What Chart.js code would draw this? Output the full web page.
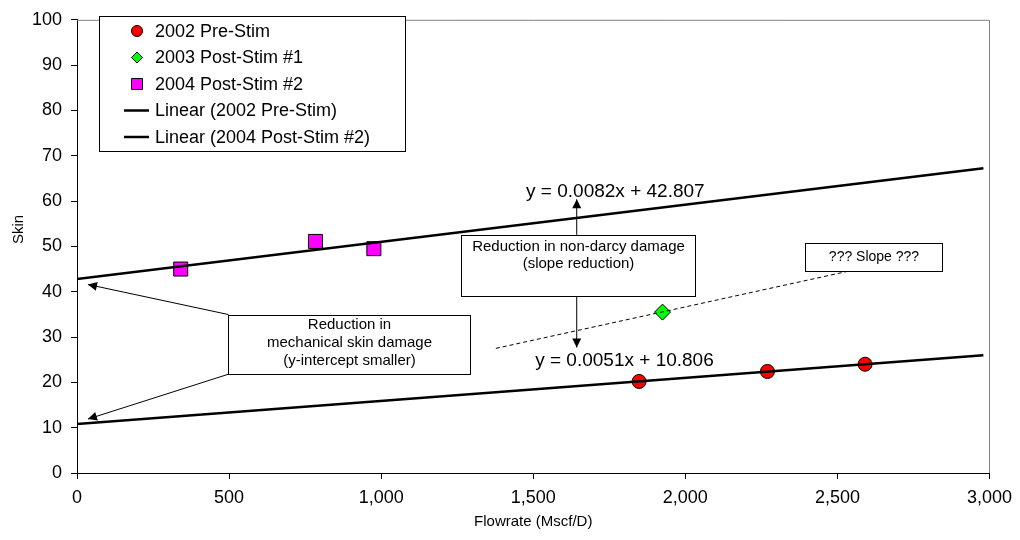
<!DOCTYPE html>
<html>
<head>
<meta charset="utf-8">
<script src="https://cdn.jsdelivr.net/npm/chart.js@4/dist/chart.umd.min.js"></script>
<style>
  html, body { margin: 0; padding: 0; background: #ffffff; }
  #wrap { width: 1020px; height: 540px; }
</style>
</head>
<body>
<div id="wrap"><canvas id="c" width="1020" height="540"></canvas></div>
<script>
const FONT = "'Liberation Sans', Arial, Helvetica, sans-serif";

// Measured skin vs. flowrate for each test
const preStimFlow = [1848, 2270, 2591];
const preStimSkin = [20.2, 22.4, 24.0];
const post1Flow = [1925];
const post1Skin = [35.5];
const post2Flow = [341, 784, 976];
const post2Skin = [45.0, 51.1, 49.5];

// Linear trendlines (as stated by the equation labels): pre-stim, post-stim #2
const trendNames = ['Linear (2002 Pre-Stim)', 'Linear (2004 Post-Stim #2)'];
const trendSlopes = [0.0051, 0.0082];
const trendIntercepts = [10.806, 42.807];
const trendRange = [0, 2980];

const xTickLabels = ['0', '500', '1,000', '1,500', '2,000', '2,500', '3,000'];
const yTickLabels = ['0', '10', '20', '30', '40', '50', '60', '70', '80', '90', '100'];
const yAxisTitle = 'Skin';
const xAxisTitle = 'Flowrate (Mscf/D)';

const toPoints = (xs, ys) => xs.map((x, i) => ({ x: x, y: ys[i] }));
const trendPoints = k => trendRange.map(x => ({ x: x, y: trendSlopes[k] * x + trendIntercepts[k] }));

// Callouts, placed in data units
const calloutBoxes = [
  { x0: 1262, x1: 2033, y0: 52.55, y1: 38.95, size: 15, first: 11, step: 17,
    lines: ['Reduction in non-darcy damage', '(slope reduction)'] },
  { x0: 2393, x1: 2843, y0: 50.8, y1: 44.6, size: 14, first: 14, step: 17,
    lines: ['??? Slope ???'] },
  { x0: 498, x1: 1292, y0: 34.96, y1: 21.8, size: 15, first: 9, step: 18.3,
    lines: ['Reduction in', 'mechanical skin damage', '(y-intercept smaller)'] }
];
const calloutArrows = [
  { from: [1643, 52.55], to: [1643, 60.4] },
  { from: [1643, 38.95], to: [1643, 27.7] },
  { from: [498, 34.96], to: [36, 41.6] },
  { from: [498, 21.8], to: [36, 11.9] }
];
const slopeGuide = { from: [1377, 27.5], to: [2541, 44.6] };
const equationLabels = [
  { x: 1800, y: 24.7, text: 'y = 0.0051x + 10.806' },
  { x: 1770, y: 62.0, text: 'y = 0.0082x + 42.807' }
];

function arrowHead(ctx, x1, y1, x2, y2, len, half) {
  const a = Math.atan2(y2 - y1, x2 - x1);
  ctx.beginPath();
  ctx.moveTo(x2, y2);
  ctx.lineTo(x2 - len * Math.cos(a) + half * Math.sin(a), y2 - len * Math.sin(a) - half * Math.cos(a));
  ctx.lineTo(x2 - len * Math.cos(a) - half * Math.sin(a), y2 - len * Math.sin(a) + half * Math.cos(a));
  ctx.closePath();
  ctx.fill();
}

const plotFrame = {
  id: 'plotFrame',
  beforeDatasetsDraw(chart) {
    const { ctx, chartArea: a } = chart;
    ctx.save();
    ctx.strokeStyle = '#808080';
    ctx.lineWidth = 1;
    ctx.beginPath();
    ctx.moveTo(a.left, a.top + 0.5);
    ctx.lineTo(Math.round(a.right) + 0.5, a.top + 0.5);
    ctx.lineTo(Math.round(a.right) + 0.5, a.bottom);
    ctx.stroke();
    ctx.restore();
  },
  afterDraw(chart) {
    // vertical axis title, set a little above the plot's middle
    const { ctx, chartArea: a } = chart;
    ctx.save();
    ctx.translate(19, (a.top + a.bottom) / 2 - 17);
    ctx.rotate(-Math.PI / 2);
    ctx.font = '15px ' + FONT;
    ctx.fillStyle = '#000';
    ctx.textAlign = 'center';
    ctx.textBaseline = 'middle';
    ctx.fillText(yAxisTitle, 0, 0);
    ctx.restore();
  }
};

const callouts = {
  id: 'callouts',
  afterDatasetsDraw(chart) {
    const { ctx } = chart;
    const xs = chart.scales.x, ys = chart.scales.y;
    const px = v => xs.getPixelForValue(v);
    const py = v => ys.getPixelForValue(v);
    ctx.save();

    // dashed guide through the post-stim #1 point
    ctx.strokeStyle = '#000';
    ctx.lineWidth = 1;
    ctx.setLineDash([4, 3]);
    ctx.beginPath();
    ctx.moveTo(px(slopeGuide.from[0]), py(slopeGuide.from[1]));
    ctx.lineTo(px(slopeGuide.to[0]), py(slopeGuide.to[1]));
    ctx.stroke();
    ctx.setLineDash([]);

    // arrows
    ctx.fillStyle = '#000';
    calloutArrows.forEach(ar => {
      const x1 = px(ar.from[0]), y1 = py(ar.from[1]);
      const x2 = px(ar.to[0]), y2 = py(ar.to[1]);
      ctx.beginPath();
      ctx.moveTo(x1, y1);
      ctx.lineTo(x2, y2);
      ctx.stroke();
      arrowHead(ctx, x1, y1, x2, y2, 9, 4.5);
    });

    // boxes
    calloutBoxes.forEach(b => {
      const l = Math.round(px(b.x0)) + 0.5, r = Math.round(px(b.x1)) + 0.5;
      const t = Math.round(py(b.y0)) + 0.5, btm = Math.round(py(b.y1)) + 0.5;
      ctx.fillStyle = '#fff';
      ctx.fillRect(l, t, r - l, btm - t);
      ctx.strokeStyle = '#000';
      ctx.strokeRect(l, t, r - l, btm - t);
      ctx.fillStyle = '#000';
      ctx.font = b.size + 'px ' + FONT;
      ctx.textAlign = 'center';
      ctx.textBaseline = 'middle';
      b.lines.forEach((s, i) => ctx.fillText(s, (l + r) / 2, t + b.first + i * b.step));
    });

    // trendline equations
    ctx.font = '19px ' + FONT;
    ctx.textAlign = 'center';
    ctx.textBaseline = 'middle';
    ctx.fillStyle = '#000';
    equationLabels.forEach(e => ctx.fillText(e.text, px(e.x), py(e.y)));
    ctx.restore();
  }
};

function drawMarker(ctx, ds, x, y, r) {
  ctx.beginPath();
  if (ds.pointStyle === 'circle') {
    ctx.arc(x, y, r, 0, Math.PI * 2);
  } else if (ds.pointStyle === 'rectRot') {
    ctx.moveTo(x, y - r); ctx.lineTo(x + r, y); ctx.lineTo(x, y + r); ctx.lineTo(x - r, y); ctx.closePath();
  } else {
    ctx.rect(x - r, y - r, 2 * r, 2 * r);
  }
  ctx.fillStyle = ds.backgroundColor;
  ctx.fill();
  ctx.strokeStyle = '#000';
  ctx.lineWidth = 1;
  ctx.stroke();
}

const boxLegend = {
  id: 'boxLegend',
  afterDraw(chart) {
    const { ctx } = chart;
    const L = 99.5, T = 16.5, W = 306, H = 135;
    ctx.save();
    ctx.fillStyle = '#fff';
    ctx.fillRect(L, T, W, H);
    ctx.strokeStyle = '#000';
    ctx.lineWidth = 1;
    ctx.strokeRect(L, T, W, H);
    ctx.font = '18px ' + FONT;
    ctx.textAlign = 'left';
    ctx.textBaseline = 'middle';
    chart.data.datasets.forEach((ds, i) => {
      const cy = 31 + i * 26.5;
      if (ds.showLine) {
        ctx.strokeStyle = '#000';
        ctx.lineWidth = 2.5;
        ctx.beginPath();
        ctx.moveTo(124, cy);
        ctx.lineTo(149, cy);
        ctx.stroke();
      } else {
        drawMarker(ctx, ds, 137, cy, ds.legendRadius);
      }
      ctx.fillStyle = '#000';
      ctx.fillText(ds.label, 155, cy + 1);
    });
    ctx.restore();
  }
};

const axisFont = { family: FONT, size: 18 };
const titleFont = { family: FONT, size: 15 };

new Chart(document.getElementById('c'), {
  type: 'scatter',
  data: {
    datasets: [
      { label: '2002 Pre-Stim', data: toPoints(preStimFlow, preStimSkin), pointStyle: 'circle',
        pointRadius: 7, backgroundColor: '#ff0000', borderColor: '#000', borderWidth: 1,
        legendRadius: 5.5, order: 1 },
      { label: '2003 Post-Stim #1', data: toPoints(post1Flow, post1Skin), pointStyle: 'rectRot',
        pointRadius: 8, backgroundColor: '#00ff00', borderColor: '#000', borderWidth: 1,
        legendRadius: 5.5, order: 1 },
      { label: '2004 Post-Stim #2', data: toPoints(post2Flow, post2Skin), pointStyle: 'rect',
        pointRadius: 9.9, backgroundColor: '#ff00ff', borderColor: '#000', borderWidth: 1,
        legendRadius: 5.5, order: 1 },
      { label: trendNames[0], data: trendPoints(0), showLine: true, pointRadius: 0,
        borderColor: '#000', borderWidth: 2.5, backgroundColor: '#000', order: 0 },
      { label: trendNames[1], data: trendPoints(1), showLine: true, pointRadius: 0,
        borderColor: '#000', borderWidth: 2.5, backgroundColor: '#000', order: 0 }
    ]
  },
  options: {
    responsive: false,
    animation: false,
    devicePixelRatio: 1,
    layout: { padding: { left: 0, top: 18, right: 28, bottom: 0 } },
    plugins: { legend: { display: false }, tooltip: { enabled: false } },
    scales: {
      x: {
        type: 'linear', min: 0, max: 3000,
        ticks: { stepSize: 500, autoSkip: false, maxRotation: 0, padding: 8, color: '#000', font: axisFont,
                 callback: (v, i) => xTickLabels[i] },
        grid: { display: true, drawOnChartArea: false, drawTicks: true, tickLength: 6, color: '#000', tickColor: '#000' },
        border: { display: true, color: '#000', width: 1 },
        title: { display: true, text: xAxisTitle, color: '#000', font: titleFont, padding: { top: 0, bottom: 9 } },
        afterFit: s => { s.height = 67; }
      },
      y: {
        type: 'linear', min: 0, max: 100,
        ticks: { stepSize: 10, autoSkip: false, padding: 9, color: '#000', font: axisFont,
                 callback: (v, i) => yTickLabels[i] },
        grid: { display: true, drawOnChartArea: false, drawTicks: true, tickLength: 6, color: '#000', tickColor: '#000' },
        border: { display: true, color: '#000', width: 1 },
        title: { display: false },
        afterFit: s => { s.width = 77; }
      }
    }
  },
  plugins: [plotFrame, callouts, boxLegend]
});
</script>
</body>
</html>
